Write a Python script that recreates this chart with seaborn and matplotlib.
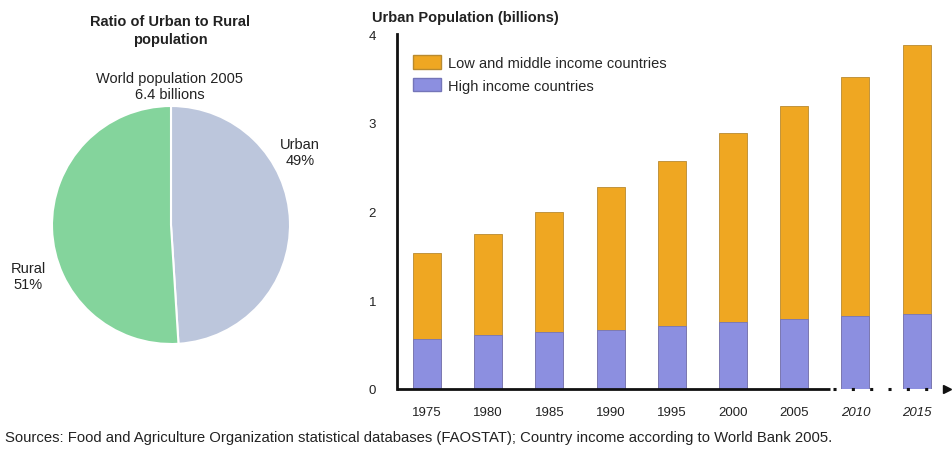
import numpy as np
import pandas as pd
import matplotlib
matplotlib.use("Agg")
import matplotlib.pyplot as plt
from matplotlib.patches import Patch
import seaborn as sns

# ---- data ----
years = ["1975", "1980", "1985", "1990", "1995", "2000", "2005", "2010", "2015"]
high_income = [0.56, 0.61, 0.64, 0.67, 0.71, 0.75, 0.79, 0.82, 0.84]
low_middle_income = [0.97, 1.14, 1.36, 1.61, 1.86, 2.13, 2.40, 2.70, 3.04]
pie_labels = ["Urban", "Rural"]
pie_shares = [49, 51]
y_ticks = [0, 1, 2, 3, 4]

sns.set_theme(style="white")
plt.rcParams["font.family"] = ["Liberation Sans", "DejaVu Sans"]

ORANGE = "#efa722"
BLUE = "#8c8fe0"
URBAN = "#bcc6dc"
RURAL = "#84d49c"

W, H = 953, 452
fig = plt.figure(figsize=(W / 100, H / 100), dpi=100)
fig.patch.set_facecolor("white")

def fx(px):
    return px / W

def fy(py):
    return 1 - py / H

# ---- pie ----
cx, cy, r = 171, 226, 119
pax = fig.add_axes([fx(cx - r), fy(cy + r), 2 * r / W, 2 * r / H])
pax.pie(pie_shares, colors=[URBAN, RURAL], startangle=90, counterclock=False,
        wedgeprops=dict(edgecolor="white", linewidth=1.5))
pax.set_aspect("equal")
pax.set_xlim(-1, 1)
pax.set_ylim(-1, 1)
pax.axis("off")

fig.text(fx(170), fy(31), "Ratio of Urban to Rural\npopulation", ha="center", va="center",
         fontsize=10.5, fontweight="bold", color="#222222", linespacing=1.3)
fig.text(fx(170), fy(87), "World population 2005\n6.4 billions", ha="center", va="center",
         fontsize=10.5, color="#222222", linespacing=1.1)
fig.text(fx(300), fy(153), "Urban\n49%", ha="center", va="center",
         fontsize=10.5, color="#222222", linespacing=1.15)
fig.text(fx(28), fy(277), "Rural\n51%", ha="center", va="center",
         fontsize=10.5, color="#222222", linespacing=1.15)

# ---- bars ----
x0_px, step_px = 427, 61.2
left_px, right_px = 397, 950
bot_px, top_px = 390, 35
xmin = (left_px - x0_px) / step_px
xmax = (right_px - x0_px) / step_px
bax = fig.add_axes([fx(left_px), fy(bot_px), (right_px - left_px) / W, (bot_px - top_px) / H])

total = np.array(high_income) + np.array(low_middle_income)
df = pd.DataFrame({"year": years, "total": total, "high": high_income})

sns.barplot(data=df, x="year", y="total", color=ORANGE, saturation=1, width=0.46,
            edgecolor="#b88a30", linewidth=0.6, ax=bax)
sns.barplot(data=df, x="year", y="high", color=BLUE, saturation=1, width=0.46,
            edgecolor="#7475b8", linewidth=0.6, ax=bax)

bax.set_xlim(xmin, xmax)
bax.set_ylim(0, 4)
bax.set_xlabel("")
bax.set_ylabel("")
for s in ["top", "right", "bottom"]:
    bax.spines[s].set_visible(False)
bax.spines["left"].set_color("#111111")
bax.spines["left"].set_linewidth(2)
bax.set_yticks(y_ticks)
bax.set_yticklabels([str(t) for t in y_ticks])
bax.tick_params(axis="y", length=0, pad=15, labelsize=9.5, labelcolor="#222222")
bax.tick_params(axis="x", length=0, pad=12, labelsize=9.5, labelcolor="#222222")
for lbl in bax.get_xticklabels():
    if lbl.get_text() in ("2010", "2015"):
        lbl.set_style("italic")

# x axis: solid, then dotted with arrow
solid_end = (830 - x0_px) / step_px
bax.plot([xmin, solid_end], [0, 0], color="#111111", lw=2, clip_on=False, solid_capstyle="butt")
bax.plot([solid_end + 0.05, xmax - 0.12], [0, 0], color="#111111", lw=2.2, clip_on=False,
         linestyle=(0, (1, 5)))
bax.plot([xmax - 0.05], [0], marker=">", color="#111111", markersize=6, clip_on=False)

fig.text(fx(372), fy(18), "Urban Population (billions)", ha="left", va="center",
         fontsize=10.5, fontweight="bold", color="#222222")

handles = [Patch(facecolor=ORANGE, edgecolor="#b88a30", label="Low and middle income countries"),
           Patch(facecolor=BLUE, edgecolor="#7475b8", label="High income countries")]
fig.legend(handles=handles, loc="upper left", bbox_to_anchor=(fx(413), fy(56)),
           frameon=False, fontsize=10.5, borderpad=0, borderaxespad=0,
           handlelength=1.9, handleheight=1.05, handletextpad=0.5, labelspacing=0.55)

fig.text(fx(5), fy(438), "Sources: Food and Agriculture Organization statistical databases (FAOSTAT); "
         "Country income according to World Bank 2005.", ha="left", va="center",
         fontsize=10.7, color="#222222")

fig.savefig("out.png", dpi=100, facecolor="white")
